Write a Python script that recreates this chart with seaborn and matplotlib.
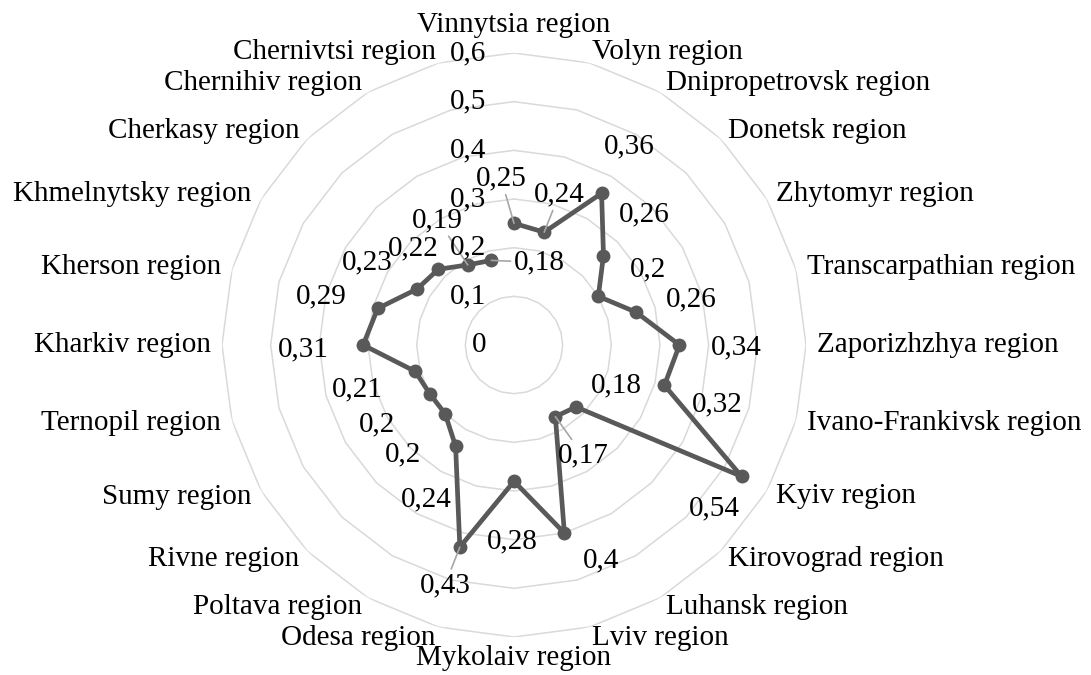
import numpy as np
import matplotlib
matplotlib.use("Agg")
import matplotlib.pyplot as plt
import seaborn as sns

regions = [
    "Vinnytsia region", "Volyn region", "Dnipropetrovsk region", "Donetsk region",
    "Zhytomyr region", "Transcarpathian region", "Zaporizhzhya region",
    "Ivano-Frankivsk region", "Kyiv region", "Kirovograd region", "Luhansk region",
    "Lviv region", "Mykolaiv region", "Odesa region", "Poltava region",
    "Rivne region", "Sumy region", "Ternopil region", "Kharkiv region",
    "Kherson region", "Khmelnytsky region", "Cherkasy region", "Chernihiv region",
    "Chernivtsi region",
]
values = [
    0.25, 0.24, 0.36, 0.26, 0.2, 0.26, 0.34, 0.32, 0.54, 0.18, 0.17, 0.4,
    0.28, 0.43, 0.24, 0.2, 0.2, 0.21, 0.31, 0.29, 0.23, 0.22, 0.19, 0.18,
]
r_ticks = [0, 0.1, 0.2, 0.3, 0.4, 0.5, 0.6]

# layout of the data labels (pixel offsets from the point, y up) and which get a leader line
label_offsets = [
    (-13, 45), (15, 38), (28, 47), (41, 41), (50, 27), (55, 13), (57, -2),
    (53, -19), (-27, -32), (40, 22), (28, -39), (37, -27), (-2, -60),
    (-15, -38), (-29, -53), (-42, -41), (-53, -31), (-58, -18), (-60, -4),
    (-56, 12), (-50, 27), (-25, 21), (-30, 45), (48, -2),
]
leaders = {0, 1, 10, 13, 22, 23}


def fmt(v):
    return f"{v:g}".replace(".", ",")


sns.set_theme(style="white")
plt.rcParams["font.family"] = ["Liberation Serif", "DejaVu Serif"]
FS = 21
LINE = "#595959"
GRID = "#D9D9D9"

n = len(regions)
theta = np.arange(n) * 2 * np.pi / n
theta_c = np.append(theta, theta[0])
vals_c = np.append(values, values[0])

fig = plt.figure(figsize=(10.91, 6.75), dpi=100)
ax = fig.add_axes([222 / 1091, 38 / 675, 584 / 1091, 584 / 675], projection="polar")
ax.set_theta_zero_location("N")
ax.set_theta_direction(-1)
ax.set_ylim(0, r_ticks[-1])
ax.grid(False)
ax.spines["polar"].set_visible(False)
ax.set_xticks([])
ax.set_yticks([])
ax.patch.set_alpha(0)

# polygon gridlines
for r in r_ticks[1:]:
    ax.plot(theta_c, [r] * (n + 1), color=GRID, lw=1.1, zorder=1)

# radial axis labels, left of the vertical axis
for r in r_ticks:
    ax.annotate(fmt(r), xy=(0, r), xytext=(-28, 0), textcoords="offset pixels",
                ha="right", va="center", fontsize=FS, color="black", zorder=5)

# category labels
for t, name in zip(theta, regions):
    s, c = np.sin(t), np.cos(t)
    if abs(s) < 1e-6:
        ha, va = "center", ("bottom" if c > 0 else "top")
        pad = 15 if c > 0 else 8
    else:
        ha, va = ("left" if s > 0 else "right"), "center"
        pad = 11
    ax.annotate(name, xy=(t, r_ticks[-1]), xytext=(pad * s, pad * c),
                textcoords="offset pixels", ha=ha, va=va, fontsize=FS,
                color="black", annotation_clip=False)

sns.lineplot(x=theta_c, y=vals_c, sort=False, ax=ax, color=LINE, lw=3.4,
             marker="o", markersize=10, markeredgewidth=0, zorder=3)
ax.set_xlabel("")
ax.set_ylabel("")

# data labels
for i, (t, v) in enumerate(zip(theta, values)):
    dx, dy = label_offsets[i]
    kw = {}
    if i in leaders:
        kw["arrowprops"] = dict(arrowstyle="-", color="#A6A6A6", lw=1.2,
                                shrinkA=0, shrinkB=0)
    ax.annotate(fmt(v), xy=(t, v), xytext=(dx, dy), textcoords="offset pixels",
                ha="center", va="center", fontsize=FS, color="black",
                zorder=4, **kw)

fig.savefig("out.png", dpi=100)
